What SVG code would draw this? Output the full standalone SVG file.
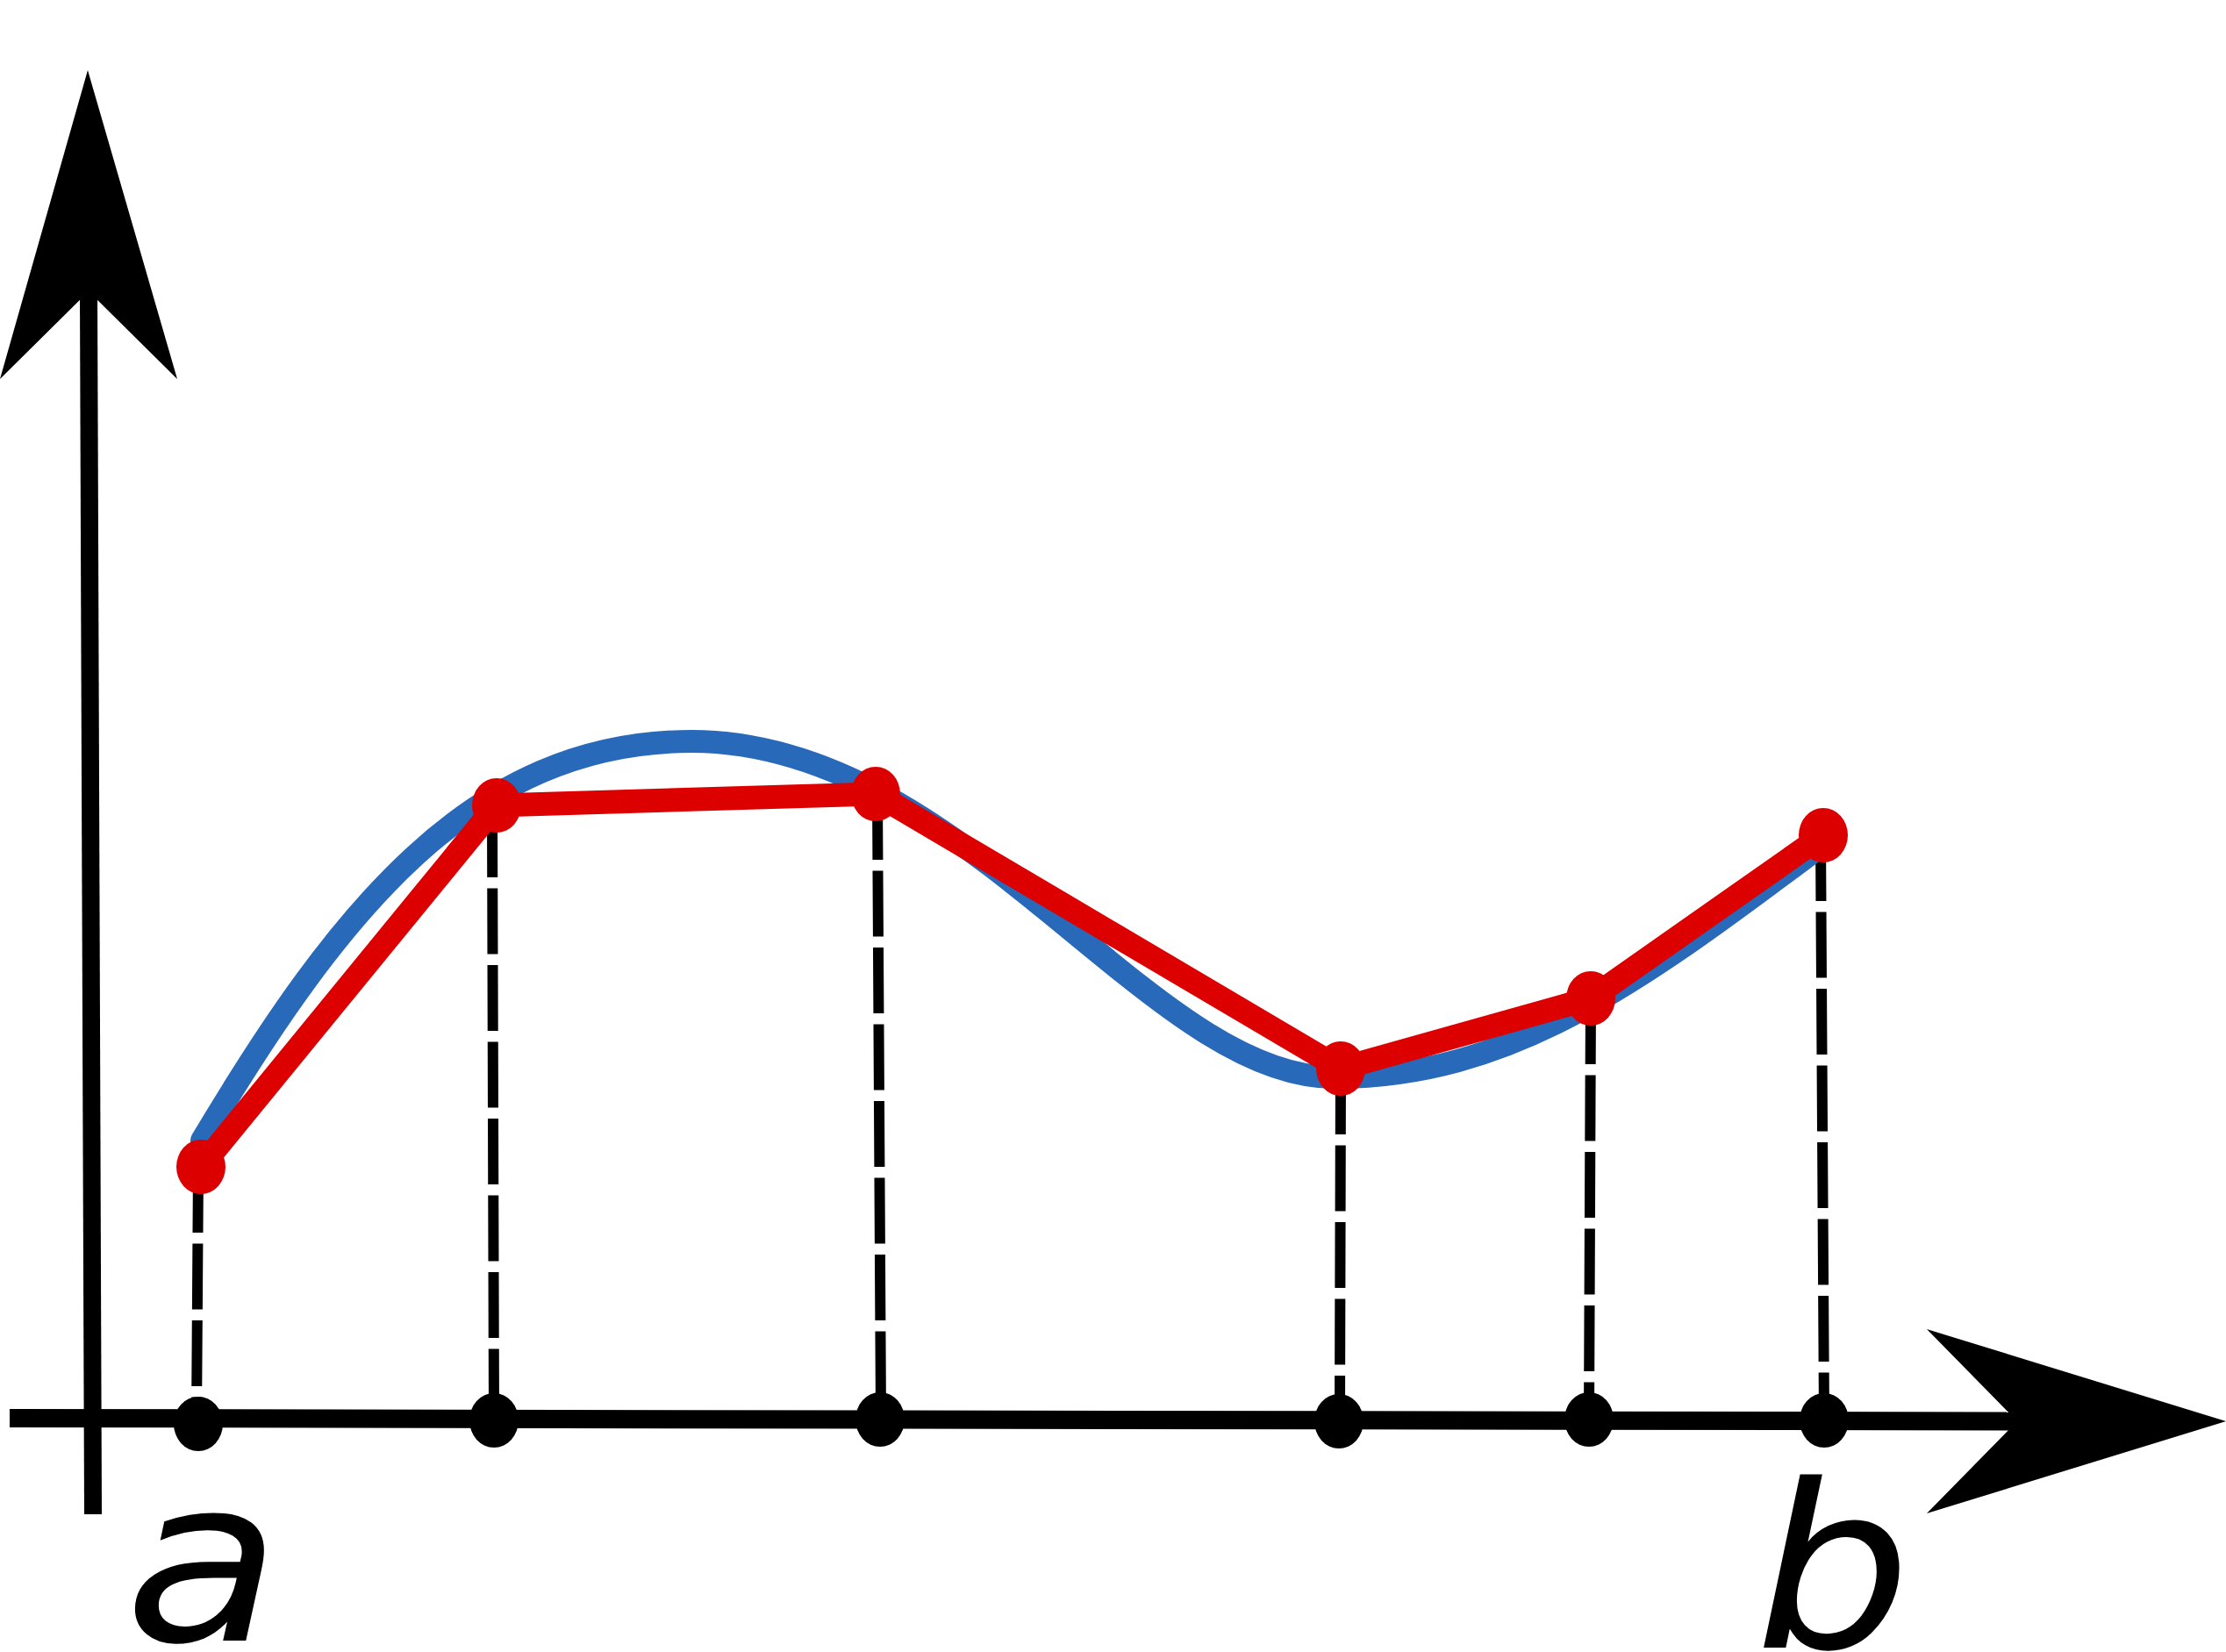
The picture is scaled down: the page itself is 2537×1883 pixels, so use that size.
<svg xmlns="http://www.w3.org/2000/svg" width="2537" height="1883" viewBox="0 0 2537 1883">
<style>
.axis{stroke:#000;stroke-width:21;fill:none}
.head{fill:#000}
.drop{stroke:#000;stroke-width:12;stroke-dasharray:75 12.5;fill:none}
.tick{fill:#000}
.curve{stroke:#2969ba;stroke-width:26;fill:none;stroke-linecap:round}
.poly{stroke:#dd0000;stroke-width:27;fill:none;stroke-linejoin:round}
.pt{fill:#dd0000}
.lbl{font-family:"DejaVu Sans",sans-serif;font-style:italic;font-size:260px;fill:#000}
</style>
<rect width="2537" height="1883" fill="#fff"/>
<g id="axes">
<line class="axis" x1="11" y1="1616.5" x2="2299" y2="1620"/>
<polygon class="head" points="2537,1620 2196,1725 2299,1620 2196,1515"/>
<line class="axis" x1="101" y1="332" x2="106" y2="1726" style="stroke-width:20"/>
<polygon class="head" points="100,80 202,432 101,332 0,432"/>
</g>
<g id="connectors">
<line class="drop" x1="226" y1="1330" x2="224" y2="1622"/>
<line class="drop" x1="561" y1="925" x2="563" y2="1619"/>
<line class="drop" x1="1000" y1="905" x2="1004" y2="1617"/>
<line class="drop" x1="1528" y1="1218" x2="1527" y2="1620"/>
<line class="drop" x1="1813" y1="1138" x2="1811" y2="1618"/>
<line class="drop" x1="2075" y1="952" x2="2079" y2="1618"/>
</g>
<g id="axis-points">
<ellipse class="tick" cx="226" cy="1623" rx="28" ry="31"/>
<ellipse class="tick" cx="563" cy="1619" rx="28" ry="31"/>
<ellipse class="tick" cx="1003" cy="1618" rx="28" ry="31"/>
<ellipse class="tick" cx="1526" cy="1620" rx="28" ry="31"/>
<ellipse class="tick" cx="1811" cy="1618" rx="28" ry="31"/>
<ellipse class="tick" cx="2079" cy="1619" rx="28" ry="31"/>
</g>
<g id="function-curve">
<path class="curve" d="M230,1300 C385,1040 538,845 788,845 C1100,845 1309,1228 1520,1228 C1720,1228 1865,1122 2065,972"/>
</g>
<g id="polyline">
<polyline class="poly" points="229,1330 566,918 998,905 1528,1218 1813,1138 2078,952"/>
</g>
<g id="sample-points">
<ellipse id="p0" class="pt" cx="229" cy="1330" rx="28" ry="31"/>
<ellipse id="p1" class="pt" cx="566" cy="918" rx="28" ry="31"/>
<ellipse id="p2" class="pt" cx="998" cy="905" rx="28" ry="31"/>
<ellipse id="p3" class="pt" cx="1528" cy="1218" rx="28" ry="31"/>
<ellipse id="p4" class="pt" cx="1813" cy="1138" rx="28" ry="31"/>
<ellipse id="p5" class="pt" cx="2078" cy="952" rx="28" ry="31"/>
</g>
<g id="labels">
<text id="label-a" class="lbl" x="142" y="1870" textLength="178" lengthAdjust="spacingAndGlyphs">a</text>
<text id="label-b" class="lbl" x="2000" y="1878" textLength="178" lengthAdjust="spacingAndGlyphs">b</text>
</g>
</svg>
